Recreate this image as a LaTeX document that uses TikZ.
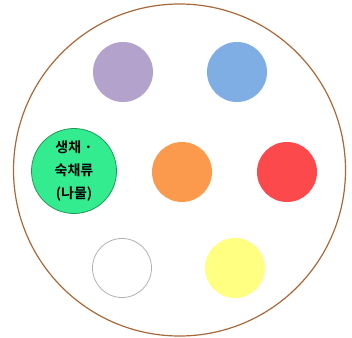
\documentclass[tikz,border=0pt]{standalone}
\usepackage{fontspec}
\newfontfamily\kr{Noto Sans CJK KR}[BoldFont={Noto Sans CJK KR Bold}]
\definecolor{cpurple}{HTML}{B3A2CC}
\definecolor{cblue}{HTML}{7FAEE4}
\definecolor{corange}{HTML}{FB9A4C}
\definecolor{cred}{HTML}{FC4A4C}
\definecolor{cyellow}{HTML}{FFFF82}
\definecolor{cgreen}{HTML}{33EC90}
\definecolor{cgreenb}{HTML}{1E9A55}
\definecolor{cbrown}{HTML}{A8693A}
\begin{document}
\begin{tikzpicture}[x=1pt,y=-1pt,
  dot/.style={circle,minimum size=60pt,inner sep=0pt,draw=none},
]
\useasboundingbox (0,0) rectangle (352,337);
\fill[white] (0,0) rectangle (352,337);
\node[circle,draw=cbrown,line width=1.2pt,minimum size=332pt,inner sep=0pt] (plate) at (179.5,170) {};
\node[dot,fill=cpurple] (purple) at (123,72) {};
\node[dot,fill=cblue] (blue) at (237,72) {};
\node[dot,fill=corange] (orange) at (182,172) {};
\node[dot,fill=cred] (red) at (287,172) {};
\node[dot,draw=gray!60,line width=0.8pt,fill=white,minimum size=59pt] (white) at (122,268) {};
\node[dot,fill=cyellow] (yellow) at (235,268) {};
\node[circle,minimum size=85pt,inner sep=0pt,fill=cgreen,draw=cgreenb,line width=0.8pt,
  align=center,font=\kr\bfseries\fontsize{14}{23}\selectfont] (green) at (74,171) {생채 ·\\숙채류\\(나물)};
\end{tikzpicture}
\end{document}
